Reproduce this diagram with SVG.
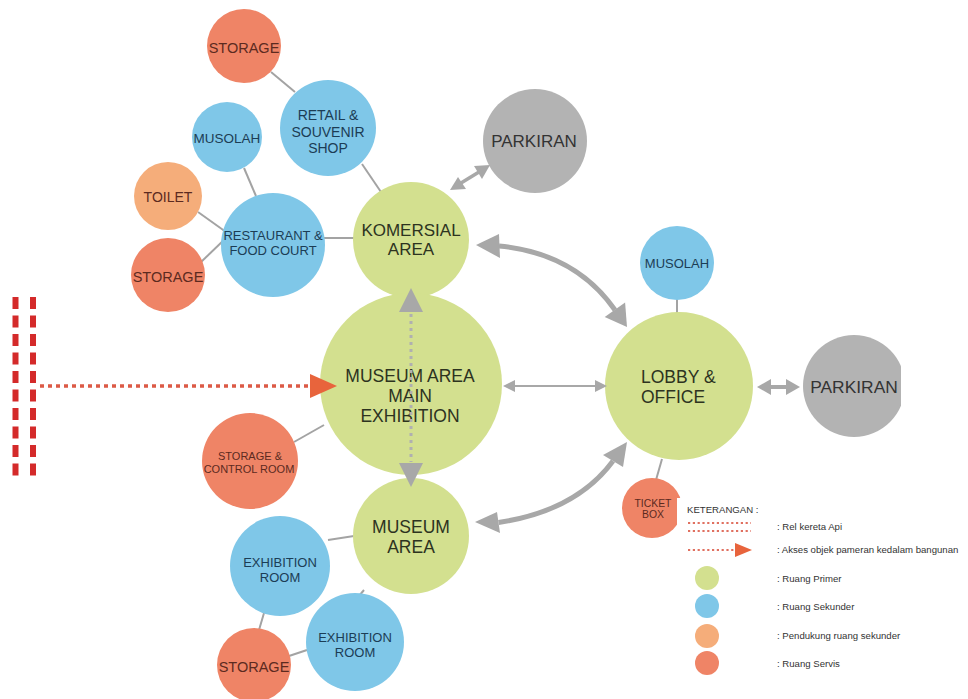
<svg xmlns="http://www.w3.org/2000/svg" width="968" height="699" viewBox="0 0 968 699">
<style>
text{font-family:"Liberation Sans",Arial,sans-serif;text-anchor:middle}
.p{fill:#d3e08f}.s{fill:#7fc7e8}.v{fill:#ef8466}.t{fill:#f5ad7a}.g{fill:#b3b3b3}
.tp{fill:#2d331f}.ts{fill:#1c3d55}.tv{fill:#5c2a1f}.tg{fill:#333}
.ln{stroke:#a3a3a3;stroke-width:2;fill:none}
.ar{fill:#a8a8a8}
.lg{font-size:9.6px;fill:#333;text-anchor:start}
</style>
<defs>
<clipPath id="clipR"><rect x="0" y="0" width="901" height="699"/></clipPath>
</defs>
<rect width="968" height="699" fill="#fff"/>

<g id="rail">
<line x1="15.5" y1="297" x2="15.5" y2="480" stroke="#d42a2a" stroke-width="6" stroke-dasharray="12 6.5"/>
<line x1="33" y1="297" x2="33" y2="480" stroke="#d42a2a" stroke-width="6" stroke-dasharray="12 6.5"/>
</g>

<g id="connectors-lines">
<line class="ln" x1="271" y1="72" x2="295" y2="92"/>
<line class="ln" x1="362" y1="164" x2="381" y2="192"/>
<line class="ln" x1="244" y1="168" x2="256" y2="196"/>
<line class="ln" x1="198" y1="212" x2="226" y2="232"/>
<line class="ln" x1="200" y1="263" x2="226" y2="238"/>
<line class="ln" x1="324" y1="238" x2="354" y2="238"/>
<line class="ln" x1="294" y1="442" x2="324" y2="425"/>
<line class="ln" x1="328" y1="540" x2="354" y2="536"/>
<line class="ln" x1="364" y1="590" x2="359" y2="596"/>
<line class="ln" x1="264" y1="613" x2="259" y2="630"/>
<line class="ln" x1="289" y1="656" x2="307" y2="650"/>
<line class="ln" x1="677" y1="299" x2="677" y2="313"/>
<line class="ln" x1="662" y1="459" x2="656" y2="480"/>
</g>

<g id="node-storage-top"><circle class="v" cx="244" cy="46" r="37"/><text class="tv" x="244" y="53" font-size="14.5">STORAGE</text></g>
<g id="node-retail"><circle class="s" cx="328" cy="128" r="48"/><text class="ts" x="328" y="120" font-size="14">RETAIL &amp;</text><text class="ts" x="328" y="137" font-size="14">SOUVENIR</text><text class="ts" x="328" y="153" font-size="14">SHOP</text></g>
<g id="node-musolah-left"><circle class="s" cx="227" cy="137" r="35"/><text class="ts" x="227" y="143" font-size="13.5">MUSOLAH</text></g>
<g id="node-toilet"><circle class="t" cx="168" cy="196" r="34"/><text class="tv" x="168" y="202" font-size="14">TOILET</text></g>
<g id="node-restaurant"><circle class="s" cx="273" cy="245" r="52"/><text class="ts" x="273" y="240" font-size="13">RESTAURANT &amp;</text><text class="ts" x="273" y="255" font-size="13">FOOD COURT</text></g>
<g id="node-storage-left"><circle class="v" cx="168" cy="275" r="37"/><text class="tv" x="168" y="282" font-size="14.5">STORAGE</text></g>
<g id="node-komersial"><circle class="p" cx="411" cy="240" r="58"/><text class="tp" x="411" y="236" font-size="17">KOMERSIAL</text><text class="tp" x="411" y="255" font-size="17">AREA</text></g>
<g id="node-parkiran-top"><circle class="g" cx="535" cy="141" r="52"/><text class="tg" x="534" y="147" font-size="17">PARKIRAN</text></g>
<g id="node-main-exhibition"><circle class="p" cx="411" cy="384" r="91"/><text class="tp" x="410" y="382" font-size="17.5">MUSEUM AREA</text><text class="tp" x="410" y="402" font-size="17.5">MAIN</text><text class="tp" x="410" y="422" font-size="17.5">EXHIBITION</text></g>
<g id="node-storage-control"><circle class="v" cx="250" cy="461" r="48"/><text class="tv" x="250" y="460" font-size="11">STORAGE &amp;</text><text class="tv" x="249" y="473" font-size="11">CONTROL ROOM</text></g>
<g id="node-museum-area"><circle class="p" cx="411" cy="536" r="58"/><text class="tp" x="411" y="533" font-size="17.5">MUSEUM</text><text class="tp" x="411" y="553" font-size="17.5">AREA</text></g>
<g id="node-exhibition-1"><circle class="s" cx="280" cy="566" r="50"/><text class="ts" x="280" y="567" font-size="13">EXHIBITION</text><text class="ts" x="280" y="582" font-size="13">ROOM</text></g>
<g id="node-exhibition-2"><circle class="s" cx="355" cy="642" r="49"/><text class="ts" x="355" y="642" font-size="13">EXHIBITION</text><text class="ts" x="355" y="657" font-size="13">ROOM</text></g>
<g id="node-storage-bottom"><circle class="v" cx="254" cy="665" r="37"/><text class="tv" x="254" y="672" font-size="14.5">STORAGE</text></g>
<g id="node-musolah-right"><circle class="s" cx="677" cy="263" r="37"/><text class="ts" x="677" y="268" font-size="13">MUSOLAH</text></g>
<g id="node-lobby"><circle class="p" cx="679" cy="386" r="74"/><text class="tp" x="641" y="383" font-size="17.5" style="text-anchor:start">LOBBY &amp;</text><text class="tp" x="641" y="403" font-size="17.5" style="text-anchor:start">OFFICE</text></g>
<g id="node-parkiran-right" clip-path="url(#clipR)"><circle class="g" cx="854" cy="386" r="51"/><text class="tg" x="854" y="393" font-size="17.4">PARKIRAN</text></g>
<g id="node-ticket-box"><circle class="v" cx="652" cy="508" r="30"/><text class="tv" x="653" y="507" font-size="10.4">TICKET</text><text class="tv" x="653" y="518" font-size="10.4">BOX</text></g>

<g id="connectors">
<!-- access arrow into building -->
<line x1="40" y1="386" x2="311" y2="386" stroke="#dc5a46" stroke-width="3.5" stroke-dasharray="4 4"/>
<polygon points="310,374 337,386 310,398" fill="#e8643c"/>
<!-- komersial - parkiran top -->
<line x1="461" y1="183" x2="479" y2="172" stroke="#a8a8a8" stroke-width="3.5"/>
<polygon class="ar" points="450,190 458,177 466,189"/>
<polygon class="ar" points="490,165 474,166 482,179"/>
<!-- komersial - lobby curve -->
<path d="M499 246 Q575 253 615 310" stroke="#a8a8a8" stroke-width="5" fill="none"/>
<polygon class="ar" points="476,245 499,234 500,258"/>
<polygon class="ar" points="627,327 604.7,317 625.1,302.6"/>
<!-- museum area - lobby curve -->
<path d="M498.5 522.5 Q576 511 613 461" stroke="#a8a8a8" stroke-width="5" fill="none"/>
<polygon class="ar" points="475,522 497,512 500,533"/>
<polygon class="ar" points="627,442 603,455 623,467"/>
<!-- main exhibition - lobby -->
<line x1="512" y1="386" x2="598" y2="386" stroke="#a8a8a8" stroke-width="2"/>
<polygon class="ar" points="503,386 515,380 515,392"/>
<polygon class="ar" points="607,386 595,380 595,392"/>
<!-- lobby - parkiran right -->
<line x1="768" y1="387" x2="789" y2="387" stroke="#a8a8a8" stroke-width="4"/>
<polygon class="ar" points="757,387 771,379 771,395"/>
<polygon class="ar" points="800,387 786,379 786,395"/>
<!-- vertical dotted komersial - main - museum area -->
<line x1="411" y1="314" x2="411" y2="462" stroke="#b0b0b0" stroke-width="3" stroke-dasharray="3 4"/>
<polygon class="ar" points="411,288 423,312 399,312"/>
<polygon class="ar" points="411,487 423,463 399,463"/>
</g>

<g id="legend">
<rect x="677" y="498" width="291" height="201" fill="#fff"/>
<text class="lg" x="687" y="513">KETERANGAN :</text>
<line x1="688" y1="523" x2="751" y2="523" stroke="#e07060" stroke-width="2" stroke-dasharray="2.2 2.6"/>
<line x1="688" y1="531" x2="751" y2="531" stroke="#e07060" stroke-width="2" stroke-dasharray="2.2 2.6"/>
<text class="lg" x="777" y="530">: Rel kereta Api</text>
<line x1="688" y1="550" x2="736" y2="550" stroke="#e07060" stroke-width="2" stroke-dasharray="2.2 2.6"/>
<polygon points="735,543 752,550 735,557" fill="#e8643c"/>
<text class="lg" x="777" y="553">: Akses objek pameran kedalam bangunan</text>
<circle class="p" cx="707" cy="578" r="12"/>
<text class="lg" x="777" y="582">: Ruang Primer</text>
<circle class="s" cx="707" cy="606" r="12"/>
<text class="lg" x="777" y="610">: Ruang Sekunder</text>
<circle class="t" cx="707" cy="636" r="12"/>
<text class="lg" x="777" y="639">: Pendukung ruang sekunder</text>
<circle class="v" cx="707" cy="663" r="12"/>
<text class="lg" x="777" y="667">: Ruang Servis</text>
</g>
</svg>
